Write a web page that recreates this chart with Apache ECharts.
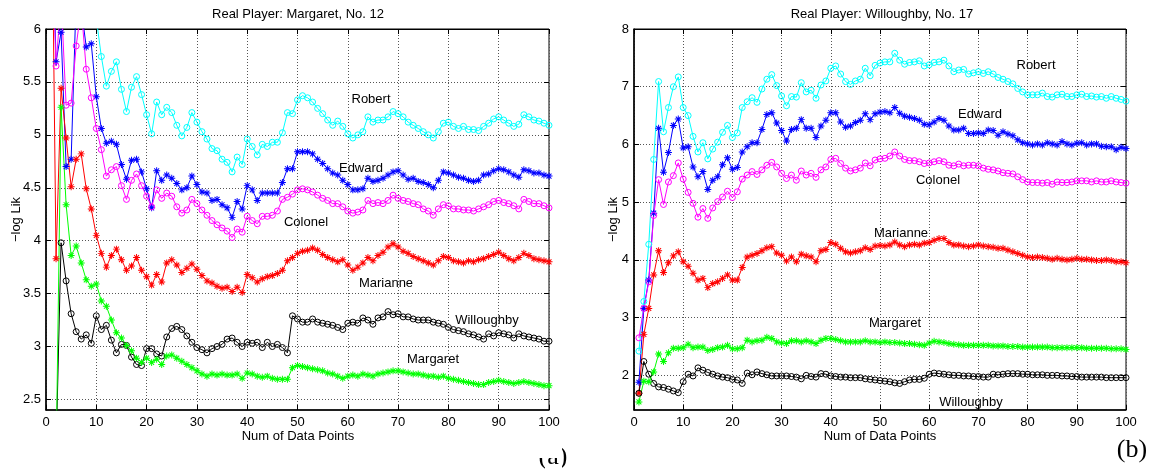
<!DOCTYPE html>
<html>
<head>
<meta charset="utf-8">
<script src="https://cdn.jsdelivr.net/npm/echarts@6/dist/echarts.min.js"></script>
<style>html,body{margin:0;padding:0;background:#fff}#c{width:1149px;height:476px}</style>
</head>
<body>
<div id="c"></div>
<script>
// ---------- data ----------
const dataPoints = Array.from({length: 100}, (_, k) => k + 1);
const xTicks = [0,10,20,30,40,50,60,70,80,90,100];
const yTicksLeft = [2.5,3,3.5,4,4.5,5,5.5,6];
const yTicksRight = [2,3,4,5,6,7,8];
const yRangeLeft = [2.4, 6];
const yRangeRight = [1.4, 8];

// Panel (a): Real Player Margaret
const L_Robert = [7.6,7.2,6.9,6.7,6.9,6.6,6.8,6.5,6.4,6.1,
5.74,5.46,5.60,5.69,5.43,5.22,5.45,5.55,5.38,5.19,
5.01,5.31,5.19,5.26,5.21,5.09,4.99,5.07,5.21,5.12,
5.03,4.96,4.87,4.85,4.77,4.74,4.65,4.79,4.72,4.96,
4.89,4.81,4.91,4.89,4.93,4.93,5.02,5.21,5.20,5.33,
5.37,5.35,5.31,5.25,5.20,5.14,5.09,5.13,5.08,5.01,
4.97,5.00,5.03,5.17,5.12,5.14,5.14,5.17,5.22,5.20,
5.17,5.12,5.09,5.06,5.03,5.00,4.97,5.03,5.11,5.12,
5.08,5.06,5.08,5.05,5.05,5.04,5.08,5.11,5.15,5.17,
5.14,5.11,5.08,5.10,5.19,5.17,5.14,5.13,5.11,5.09];
const L_Edward = [7.5,5.69,5.97,4.70,4.77,6.3,6.2,5.83,5.86,5.36,
5.06,4.92,4.94,4.91,4.72,4.58,4.76,4.77,4.65,4.49,
4.31,4.66,4.57,4.62,4.59,4.54,4.48,4.50,4.61,4.53,
4.46,4.45,4.38,4.39,4.34,4.31,4.22,4.37,4.30,4.52,
4.48,4.38,4.45,4.45,4.45,4.45,4.55,4.68,4.68,4.84,
4.84,4.84,4.82,4.77,4.73,4.68,4.64,4.62,4.57,4.53,
4.48,4.48,4.49,4.59,4.56,4.57,4.59,4.62,4.65,4.66,
4.62,4.58,4.59,4.56,4.55,4.53,4.50,4.57,4.65,4.64,
4.62,4.60,4.59,4.57,4.56,4.57,4.62,4.63,4.66,4.68,
4.67,4.65,4.62,4.60,4.67,4.66,4.64,4.64,4.62,4.61];
const L_Colonel = [7.0,5.65,6.3,5.28,5.30,5.84,6.2,5.62,5.35,5.06,
4.86,4.61,4.67,4.70,4.52,4.39,4.57,4.63,4.52,4.42,
4.32,4.48,4.40,4.45,4.42,4.32,4.26,4.29,4.39,4.35,
4.29,4.24,4.19,4.15,4.12,4.09,4.03,4.11,4.08,4.23,
4.19,4.16,4.23,4.23,4.24,4.28,4.39,4.41,4.44,4.48,
4.49,4.48,4.46,4.43,4.40,4.38,4.35,4.35,4.32,4.28,
4.26,4.27,4.29,4.38,4.35,4.36,4.35,4.38,4.43,4.40,
4.38,4.37,4.35,4.34,4.30,4.28,4.24,4.30,4.34,4.33,
4.30,4.30,4.29,4.29,4.28,4.30,4.32,4.34,4.37,4.38,
4.36,4.35,4.33,4.30,4.39,4.37,4.35,4.35,4.33,4.31];
const L_Marianne = [8.0,3.83,5.44,4.97,4.51,4.77,4.82,4.49,4.30,4.05,
3.88,3.75,3.86,3.92,3.82,3.72,3.76,3.84,3.72,3.66,
3.58,3.68,3.61,3.79,3.82,3.77,3.70,3.74,3.78,3.73,
3.67,3.62,3.60,3.57,3.55,3.56,3.52,3.56,3.51,3.68,
3.65,3.61,3.64,3.66,3.67,3.69,3.72,3.81,3.84,3.88,
3.90,3.91,3.93,3.91,3.87,3.84,3.82,3.80,3.82,3.77,
3.72,3.75,3.79,3.84,3.81,3.86,3.89,3.94,3.97,3.94,
3.90,3.88,3.85,3.83,3.81,3.79,3.77,3.81,3.85,3.84,
3.81,3.80,3.79,3.81,3.80,3.82,3.83,3.85,3.87,3.89,
3.86,3.83,3.81,3.84,3.88,3.86,3.83,3.82,3.81,3.80];
const L_Willoughby = [1.8,2.0,3.98,3.62,3.31,3.14,3.07,3.11,3.03,3.29,
3.16,3.20,3.06,2.94,3.02,3.01,2.90,2.83,2.82,2.98,
2.98,2.93,2.91,3.09,3.17,3.19,3.16,3.10,3.04,2.99,
2.97,2.94,2.98,3.00,3.02,3.07,3.08,3.04,3.00,3.04,
3.03,3.04,2.99,3.04,3.00,3.02,2.99,2.94,3.29,3.26,
3.23,3.23,3.26,3.23,3.22,3.21,3.20,3.18,3.16,3.22,
3.23,3.22,3.27,3.25,3.21,3.27,3.28,3.33,3.30,3.31,
3.28,3.28,3.26,3.25,3.25,3.25,3.23,3.22,3.21,3.18,
3.16,3.15,3.14,3.12,3.11,3.09,3.07,3.12,3.10,3.13,
3.12,3.11,3.08,3.12,3.10,3.09,3.08,3.07,3.05,3.05];
const L_Margaret = [1.5,1.9,5.26,4.34,3.86,3.95,3.79,3.63,3.57,3.59,
3.43,3.38,3.25,3.13,3.08,3.01,2.96,2.89,2.85,2.89,
2.85,2.88,2.83,2.91,2.92,2.89,2.86,2.83,2.80,2.77,
2.74,2.72,2.74,2.73,2.74,2.73,2.73,2.74,2.70,2.75,
2.74,2.72,2.71,2.72,2.70,2.69,2.69,2.69,2.80,2.82,
2.81,2.80,2.79,2.78,2.77,2.75,2.74,2.72,2.70,2.72,
2.73,2.72,2.74,2.73,2.72,2.74,2.75,2.76,2.77,2.77,
2.76,2.75,2.74,2.74,2.73,2.72,2.72,2.71,2.72,2.70,
2.69,2.68,2.67,2.66,2.65,2.64,2.64,2.66,2.67,2.68,
2.67,2.66,2.65,2.66,2.67,2.66,2.65,2.64,2.63,2.63];

// Panel (b): Real Player Willoughby
const R_Robert = [2.42,3.28,4.27,5.74,7.09,6.22,6.64,7.00,7.17,6.64,
6.50,6.14,5.87,6.03,5.75,5.92,6.04,6.21,6.33,6.12,
6.20,6.64,6.74,6.81,6.73,6.96,7.13,7.21,7.02,6.84,
6.67,6.83,6.82,7.07,6.91,6.94,6.80,7.03,7.10,7.32,
7.36,7.22,7.09,7.04,7.10,7.13,7.32,7.19,7.37,7.41,
7.43,7.43,7.58,7.46,7.39,7.42,7.43,7.45,7.36,7.38,
7.42,7.43,7.46,7.36,7.26,7.29,7.30,7.22,7.24,7.26,
7.23,7.26,7.22,7.16,7.13,7.09,7.05,6.97,6.91,6.86,
6.86,6.86,6.89,6.83,6.82,6.86,6.87,6.83,6.83,6.86,
6.87,6.83,6.84,6.82,6.83,6.80,6.83,6.80,6.78,6.75];
const R_Edward = [1.88,3.16,3.65,4.81,6.28,5.52,5.86,6.33,6.44,5.94,
5.96,5.61,5.44,5.53,5.22,5.38,5.44,5.65,5.77,5.57,
5.60,5.87,5.96,6.03,6.03,6.26,6.52,6.55,6.37,6.24,
6.06,6.26,6.28,6.43,6.28,6.28,6.12,6.32,6.42,6.55,
6.55,6.39,6.30,6.32,6.38,6.42,6.53,6.43,6.53,6.56,
6.57,6.55,6.64,6.54,6.49,6.47,6.45,6.42,6.35,6.34,
6.39,6.45,6.42,6.32,6.25,6.25,6.28,6.19,6.19,6.20,
6.19,6.25,6.24,6.16,6.22,6.18,6.15,6.08,6.03,6.01,
5.99,6.01,5.99,6.03,6.01,5.99,6.05,6.01,5.99,6.02,
6.03,5.99,6.01,6.01,5.97,5.96,5.96,5.91,5.95,5.93];
const R_Colonel = [2.65,3.16,3.62,4.77,5.39,4.96,5.35,5.46,5.68,5.40,
5.17,4.98,4.74,4.89,4.72,4.90,5.01,5.09,5.19,5.08,
5.18,5.40,5.47,5.53,5.48,5.56,5.64,5.69,5.61,5.50,
5.41,5.47,5.38,5.54,5.47,5.50,5.43,5.56,5.61,5.74,
5.76,5.67,5.59,5.54,5.56,5.59,5.68,5.63,5.73,5.75,
5.76,5.80,5.87,5.80,5.74,5.72,5.72,5.70,5.67,5.68,
5.70,5.72,5.70,5.64,5.63,5.66,5.63,5.64,5.64,5.63,
5.59,5.57,5.56,5.54,5.51,5.50,5.49,5.44,5.39,5.35,
5.34,5.34,5.33,5.34,5.31,5.35,5.34,5.34,5.35,5.37,
5.37,5.37,5.35,5.37,5.35,5.35,5.37,5.35,5.34,5.33];
const R_Marianne = [1.69,2.71,3.16,3.74,4.16,3.78,3.95,4.07,4.14,3.97,
3.89,3.77,3.65,3.68,3.52,3.59,3.62,3.68,3.74,3.65,
3.65,3.87,4.05,4.08,4.11,4.16,4.21,4.23,4.12,4.08,
3.98,4.05,3.97,4.10,4.07,4.05,3.97,4.16,4.18,4.30,
4.27,4.20,4.14,4.12,4.14,4.16,4.21,4.18,4.24,4.25,
4.24,4.26,4.31,4.26,4.23,4.26,4.27,4.26,4.29,4.30,
4.34,4.37,4.37,4.30,4.26,4.26,4.24,4.23,4.24,4.26,
4.24,4.23,4.22,4.20,4.20,4.17,4.14,4.11,4.08,4.05,
4.04,4.05,4.04,4.03,4.01,4.03,4.01,4.00,4.01,4.03,
4.01,4.01,4.00,3.99,3.99,4.00,3.99,3.97,3.97,3.95];
const R_Margaret = [1.54,1.90,1.89,2.06,2.37,2.24,2.39,2.47,2.47,2.48,
2.54,2.48,2.49,2.49,2.43,2.45,2.48,2.49,2.52,2.46,
2.46,2.48,2.61,2.58,2.60,2.61,2.66,2.64,2.58,2.56,
2.55,2.60,2.60,2.58,2.60,2.58,2.55,2.61,2.64,2.64,
2.62,2.60,2.58,2.58,2.58,2.58,2.60,2.58,2.58,2.57,
2.58,2.57,2.57,2.56,2.55,2.55,2.54,2.53,2.52,2.56,
2.59,2.58,2.57,2.55,2.54,2.53,2.52,2.52,2.52,2.52,
2.52,2.52,2.51,2.51,2.51,2.50,2.50,2.50,2.49,2.49,
2.49,2.49,2.49,2.49,2.48,2.48,2.48,2.48,2.48,2.48,
2.48,2.47,2.47,2.47,2.47,2.47,2.46,2.46,2.46,2.45];
const R_Willoughby = [1.69,2.24,2.02,1.86,1.80,1.79,1.76,1.73,1.70,1.89,
2.02,1.99,2.13,2.09,2.05,2.02,1.99,1.97,1.96,1.93,
1.92,1.86,2.04,2.01,2.06,2.03,2.01,1.99,1.99,1.99,
1.99,1.98,1.97,1.94,2.00,1.98,1.97,2.03,2.02,1.99,
1.98,1.97,1.97,1.96,1.96,1.96,1.94,1.93,1.92,1.91,
1.90,1.89,1.87,1.86,1.89,1.92,1.93,1.93,1.95,2.02,
2.04,2.03,2.02,2.01,2.00,2.00,1.99,1.99,1.98,1.98,
1.97,1.97,2.02,2.01,2.02,2.03,2.03,2.03,2.02,2.02,
2.01,2.01,2.01,2.00,2.00,2.00,1.99,1.99,1.98,1.98,
1.97,1.97,1.97,1.97,1.97,1.96,1.96,1.96,1.96,1.96];

// ---------- styling ----------
const FONT = '"Liberation Sans", Arial, sans-serif';
const ASTER = 'path://M4.3,0L5.7,0L5.7,10L4.3,10Z M0,4.3L10,4.3L10,5.7L0,5.7Z M2,1L9,8L8,9L1,2Z M1,8L8,1L9,2L2,9Z';
const COL = {Robert:'#00ffff', Edward:'#0000ff', Colonel:'#ff00ff', Marianne:'#ff0000', Willoughby:'#000000', Margaret:'#00ff00'};
const MARK = {Robert:'o', Edward:'*', Colonel:'o', Marianne:'*', Willoughby:'o', Margaret:'*'};

function mk(name, vals, xi, yi) {
  const c = COL[name], circ = MARK[name] === 'o';
  return {
    type: 'line', name: name, xAxisIndex: xi, yAxisIndex: yi,
    data: dataPoints.map((x, k) => [x, vals[k]]),
    symbol: circ ? 'circle' : ASTER, symbolSize: circ ? 6 : 7,
    showAllSymbol: true, clip: true, animation: false, silent: true,
    lineStyle: {color: c, width: 1},
    itemStyle: circ ? {color: 'rgba(0,0,0,0)', borderColor: c, borderWidth: 1} : {color: c, borderWidth: 0},
    emphasis: {disabled: true}
  };
}

const GL = {left: 46, top: 29, width: 503, height: 381};
const GR = {left: 634, top: 29, width: 492, height: 381};
const hL = GL.height * (yTicksLeft[yTicksLeft.length-1] - yTicksLeft[0]) / (yRangeLeft[1] - yRangeLeft[0]);
const hR = GR.height * (yTicksRight[yTicksRight.length-1] - yTicksRight[0]) / (yRangeRight[1] - yRangeRight[0]);

const dotted = {show: true, lineStyle: {color: '#555', width: 1, type: [1, 2]}};
const lbl = {color: '#000', fontFamily: FONT, fontSize: 13};

function xMain(gi) {
  return {type: 'value', gridIndex: gi, position: 'bottom', min: xTicks[0], max: xTicks[xTicks.length-1], interval: xTicks[1]-xTicks[0],
    axisLine: {show: true, onZero: false, lineStyle: {color: '#000', width: 1.5}},
    axisTick: {show: true, inside: true, length: 5, lineStyle: {color: '#000'}},
    axisLabel: Object.assign({margin: 6}, lbl), splitLine: dotted};
}
function xTop(gi) {
  return {type: 'value', gridIndex: gi, position: 'top', min: xTicks[0], max: xTicks[xTicks.length-1], interval: xTicks[1]-xTicks[0],
    axisLine: {show: true, onZero: false, lineStyle: {color: '#000', width: 1}},
    axisTick: {show: true, inside: true, length: 5, lineStyle: {color: '#000'}},
    axisLabel: {show: false}, splitLine: {show: false}};
}
function xHidden(gi) { return {type: 'value', gridIndex: gi, min: 0, max: 100, show: false}; }
function yData(gi, r) {
  return {type: 'value', gridIndex: gi, min: r[0], max: r[1], position: 'left',
    axisLine: {show: true, onZero: false, lineStyle: {color: '#000', width: 1.5}},
    axisTick: {show: false}, axisLabel: {show: false}, splitLine: {show: false}};
}
function yTickAxis(gi, t, pos) {
  return {type: 'value', gridIndex: gi, min: t[0], max: t[t.length-1], interval: t[1]-t[0], position: pos,
    axisLine: {show: false, onZero: false},
    axisTick: {show: true, inside: true, length: 5, lineStyle: {color: '#000'}},
    axisLabel: pos === 'left' ? Object.assign({margin: 5}, lbl) : {show: false},
    splitLine: pos === 'left' ? dotted : {show: false}};
}

const names = ['Robert','Edward','Colonel','Marianne','Willoughby','Margaret'];
const Lvals = {Robert: L_Robert, Edward: L_Edward, Colonel: L_Colonel, Marianne: L_Marianne, Willoughby: L_Willoughby, Margaret: L_Margaret};
const Rvals = {Robert: R_Robert, Edward: R_Edward, Colonel: R_Colonel, Marianne: R_Marianne, Willoughby: R_Willoughby, Margaret: R_Margaret};

const series = [];
names.forEach(n => series.push(mk(n, Lvals[n], 0, 0)));
names.forEach(n => series.push(mk(n, Rvals[n], 3, 3)));

function txt(s, x, y, opt) {
  opt = opt || {};
  return {type: 'text', x: x, y: y, rotation: opt.rot || 0, z: opt.z || 50,
    style: {text: s, fill: '#000', font: (opt.font || ('13px ' + FONT)), align: opt.align || 'center', verticalAlign: 'middle'}};
}

const option = {
  backgroundColor: '#fff',
  animation: false,
  grid: [
    Object.assign({show: true, borderColor: '#000', borderWidth: 1, backgroundColor: 'transparent'}, GL),
    {left: GL.left, top: GL.top, width: GL.width, height: hL},
    Object.assign({show: true, borderColor: '#000', borderWidth: 1, backgroundColor: 'transparent'}, GR),
    {left: GR.left, top: GR.top, width: GR.width, height: hR}
  ],
  xAxis: [xMain(0), xTop(0), xHidden(1), xMain(2), xTop(2), xHidden(3)],
  yAxis: [yData(0, yRangeLeft), yTickAxis(1, yTicksLeft, 'left'), yTickAxis(1, yTicksLeft, 'right'),
          yData(2, yRangeRight), yTickAxis(3, yTicksRight, 'left'), yTickAxis(3, yTicksRight, 'right')],
  series: series,
  graphic: [
    txt('Real Player: Margaret, No. 12', 298, 14),
    txt('Real Player: Willoughby, No. 17', 882, 14),
    txt('Num of Data Points', 298, 436),
    txt('Num of Data Points', 880, 436),
    txt('\u2212log Lik', 16, 219.5, {rot: Math.PI / 2}),
    txt('\u2212log Lik', 613, 219.5, {rot: Math.PI / 2}),
    txt('Robert', 371, 99), txt('Edward', 361, 168), txt('Colonel', 306, 222),
    txt('Marianne', 386, 283), txt('Willoughby', 487, 320), txt('Margaret', 433, 359),
    txt('Robert', 1036, 65), txt('Edward', 980, 114), txt('Colonel', 938, 180),
    txt('Marianne', 901, 233), txt('Margaret', 895, 323), txt('Willoughby', 971, 402),
    txt('(b)', 1132, 450, {font: '26px "Liberation Serif", "Times New Roman", serif'}),
    txt('(a)', 553, 457, {font: '26px "Liberation Serif", "Times New Roman", serif'}),
    {type: 'rect', z: 60, shape: {x: 528, y: 436, width: 34, height: 22}, style: {fill: '#fff'}},
    {type: 'rect', z: 60, shape: {x: 545, y: 464, width: 17, height: 12}, style: {fill: '#fff'}}
  ]
};

const chart = echarts.init(document.getElementById('c'), null, {renderer: 'canvas'});
chart.setOption(option);
</script>
</body>
</html>
